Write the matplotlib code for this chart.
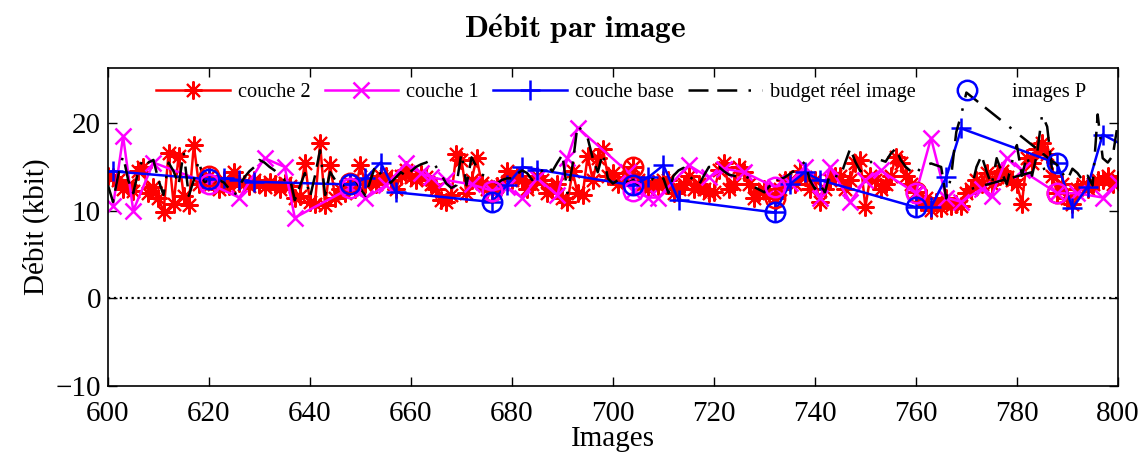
import matplotlib
matplotlib.use('Agg')  # no display
import matplotlib.pyplot as plt

plt.rcParams['font.family'] = ['Liberation Serif', 'DejaVu Serif']
plt.rcParams['mathtext.fontset'] = 'cm'

# ---- data (kbit per frame) ----
frames = list(range(600, 801))

# couche 2 : one value per frame, 600..800
couche2 = [
    14.0, 13.8, 13.5, 12.5, 12.9, 12.2, 14.5, 15.0, 12.0, 12.7,   # 600
    11.5, 9.8, 16.6, 10.8, 16.3, 11.7, 10.6, 17.5, 13.0, 13.4,    # 610
    14.0, 13.0, 12.5, 13.5, 12.8, 14.4, 13.2, 13.0, 12.8, 13.5,   # 620
    13.0, 12.7, 13.3, 13.0, 12.5, 13.2, 12.8, 11.5, 11.7, 15.5,   # 630
    11.0, 10.8, 17.7, 10.6, 15.2, 11.5, 12.5, 12.0, 13.2, 12.5,   # 640
    15.2, 13.0, 13.5, 13.0, 14.0, 14.0, 13.5, 12.5, 14.0, 14.6,   # 650
    13.8, 13.5, 14.2, 13.8, 13.0, 12.5, 11.2, 11.0, 11.8, 16.5,   # 660
    15.8, 12.0, 13.5, 16.0, 13.2, 12.5, 12.2, 12.8, 13.0, 14.5,   # 670
    13.5, 14.0, 13.5, 12.5, 13.0, 14.0, 13.5, 12.0, 12.5, 13.0,   # 680
    11.5, 11.0, 14.5, 12.0, 11.8, 16.3, 13.5, 16.0, 17.1, 14.0,   # 690
    14.3, 13.0, 13.5, 13.8, 15.0, 13.5, 13.0, 12.5, 13.0, 12.8,   # 700
    13.5, 13.5, 12.0, 12.5, 13.0, 14.0, 12.5, 13.0, 12.5, 12.0,   # 710
    12.1, 14.6, 15.4, 12.5, 13.0, 15.0, 14.4, 13.0, 11.4, 12.1,   # 720
    12.5, 12.0, 11.4, 12.5, 13.5, 13.5, 13.0, 14.5, 13.8, 12.5,   # 730
    13.5, 11.0, 12.5, 13.5, 14.0, 14.0, 12.5, 13.5, 15.5, 15.8,   # 740
    10.4, 14.0, 13.5, 12.5, 13.1, 14.0, 16.1, 15.4, 14.0, 13.0,   # 750
    12.1, 11.0, 11.5, 10.1, 11.0, 10.3, 11.5, 10.5, 10.8, 10.5,   # 760
    12.0, 12.5, 13.5, 13.0, 14.3, 13.0, 13.8, 14.5, 13.8, 13.5,   # 770
    13.0, 10.8, 16.0, 15.5, 17.0, 17.7, 16.5, 14.0, 12.0, 13.0,   # 780
    11.5, 10.8, 12.5, 13.0, 12.5, 13.0, 13.5, 13.5, 14.0, 13.0,   # 790
    13.5,                                                         # 800
]

# couche 1
couche1_frames = [601, 603, 605, 609, 620, 626, 631, 635, 637, 648, 651, 655, 659,
                  662, 664, 667, 672, 676, 679, 682, 685, 689, 691, 693, 703, 704,
                  707, 709, 715, 719, 722, 726, 732, 735, 738, 741, 743, 747, 750,
                  753, 760, 763, 766, 769, 773, 775, 778, 781, 788, 792, 797, 800]
couche1 = [10.5, 18.5, 10.0, 15.5, 13.1, 11.5, 16.0, 15.0, 9.2, 12.6, 11.4, 12.9, 15.4,
           14.3, 13.8, 13.5, 13.0, 12.3, 12.7, 11.5, 13.7, 11.8, 16.0, 19.5, 14.4, 12.3,
           11.5, 11.5, 15.2, 13.8, 14.8, 14.4, 12.7, 13.2, 15.0, 11.4, 15.0, 11.0, 13.5,
           14.6, 12.0, 18.3, 11.5, 11.0, 12.5, 11.7, 16.0, 14.6, 12.0, 12.0, 11.5, 13.2]

# couche base
base_frames = [598, 601, 620, 623, 626, 629, 648, 651, 654, 657, 676, 679, 682, 685,
               704, 707, 710, 713, 732, 735, 738, 741, 760, 763, 766, 769, 788, 791,
               794, 797, 816]
base = [14.4, 14.5, 13.6, 13.7, 13.5, 13.3, 13.0, 13.7, 15.5, 12.1, 11.0, 12.9, 15.0, 14.7,
        12.9, 13.8, 15.2, 11.2, 9.8, 13.0, 14.4, 13.5, 10.4, 10.4, 13.8, 19.4, 15.4, 10.3,
        12.7, 18.7, 13.0]

# budget reel image (coding order: frame 788 comes right after 770)
budget_frames = list(range(600, 771)) + [788] + list(range(771, 788)) + list(range(789, 801))
budget = [
    12.9, 11.0, 14.0, 16.3, 13.5, 12.0, 14.5, 16.1, 15.5, 15.8,   # 600
    13.5, 11.8, 15.5, 14.5, 13.0, 16.7, 11.7, 13.5, 15.8, 13.2,   # 610
    13.5, 12.9, 13.5, 13.2, 12.5, 11.7, 12.8, 13.8, 14.5, 15.0,   # 620
    15.8, 15.5, 15.0, 14.6, 14.0, 13.5, 13.8, 11.2, 12.8, 14.3,   # 630
    11.5, 14.0, 16.9, 11.8, 14.4, 13.5, 12.7, 13.0, 13.2, 13.5,   # 640
    12.5, 11.7, 13.5, 15.2, 14.2, 13.5, 13.2, 13.8, 14.4, 14.0,   # 650
    14.5, 15.0, 15.3, 15.5, 15.8, 15.0, 14.1, 13.1, 12.6, 12.9,   # 660
    16.6, 12.9, 16.1, 15.0, 14.1, 14.0, 13.5, 13.1, 13.5, 13.7,   # 670
    13.7, 14.2, 14.6, 14.3, 13.5, 14.0, 14.6, 15.2, 14.5, 15.5,   # 680
    16.4, 12.0, 15.2, 19.8, 19.0, 18.3, 16.0, 14.4, 16.6, 13.7,   # 690
    13.1, 13.5, 13.8, 13.2, 13.5, 13.0, 13.2, 13.5, 13.6, 13.2,   # 700
    13.7, 12.0, 14.0, 14.6, 14.9, 14.0, 13.5, 12.9, 14.0, 15.0,   # 710
    15.0, 15.0, 14.5, 14.1, 14.0, 13.8, 14.0, 13.7, 12.7, 12.4,   # 720
    12.1, 12.8, 13.5, 13.6, 13.8, 14.2, 14.6, 15.0, 15.6, 13.5,   # 730
    12.5, 13.0, 12.1, 14.3, 14.0, 13.8, 15.5, 17.1, 15.6, 14.5,   # 740
    15.0, 15.5, 16.1, 15.8, 15.6, 16.5, 17.1, 15.8, 15.0, 14.5,   # 750
    14.1, 15.0, 15.2, 15.4, 15.2, 15.0, 11.4, 14.0, 19.0, 21.0,   # 760
    23.5,                                                         # 770
    15.2,                                                         # 788
    12.5, 15.0, 16.3, 14.5, 12.9, 16.0, 14.4, 13.0, 15.5, 17.5,   # 771..780
    14.0, 16.3, 14.0, 16.5, 21.0, 19.6, 14.5,                     # 781..787
    14.3, 13.5, 14.8, 14.3, 13.5, 14.0, 12.9, 21.0, 16.0, 15.5,   # 789..798
    16.3, 20.0,                                                   # 799..800
]

p_frames = [620, 648, 676, 704, 732, 760, 788]

# ---- plot ----
fig = plt.figure(figsize=(11.45, 4.59), dpi=100)
ax = fig.add_axes([0.0943, 0.1597, 0.882, 0.692])

lw = 1.8
star = (8, 2, 0)
ax.axhline(0, color='k', ls=':', lw=1.6, zorder=1)

h2, = ax.plot(frames, couche2, color='red', marker=star, ms=13, mew=1.5, lw=lw, label='couche 2')
h1, = ax.plot(couche1_frames, couche1, color='magenta', marker='x', ms=11, mew=1.8, lw=lw, label='couche 1')
hb, = ax.plot(base_frames, base, color='blue', marker='+', ms=15, mew=1.8, lw=lw, label='couche base')
hbud, = ax.plot(budget_frames, budget, color='black', lw=lw, ls=(0, (8, 3.5, 8, 4.5, 1, 4.5)),
                label='budget réel image')

# circles on the P frames of each layer
red_p = [couche2[frames.index(f)] for f in p_frames]
mag_p = [couche1[couche1_frames.index(f)] for f in p_frames]
blue_p = [base[base_frames.index(f)] for f in p_frames]
ax.plot(p_frames, red_p, ls='none', marker='o', ms=14, mfc='none', mec='red', mew=1.8)
ax.plot(p_frames, mag_p, ls='none', marker='o', ms=14, mfc='none', mec='magenta', mew=1.8)
hp, = ax.plot(p_frames, blue_p, ls='none', marker='o', ms=14, mfc='none', mec='blue', mew=1.8,
              label='images P')

ax.set_xlim(600, 800)
ax.set_ylim(-10, 26.3)
ax.set_xticks(range(600, 801, 20))
ax.set_yticks([-10, 0, 10, 20])
ax.tick_params(direction='in', top=True, right=True, length=6.5, width=1, labelsize=21)
ax.tick_params(axis='x', pad=11)
ax.tick_params(axis='y', pad=5)
for s in ax.spines.values():
    s.set_linewidth(1.2)

ax.set_xlabel('Images', fontsize=21, labelpad=-1)
ax.set_ylabel('Débit (kbit)', fontsize=21, labelpad=4)
fig.text(0.502, 0.937, r'$\mathbf{D\acute{e}bit\ par\ image}$', fontsize=22.5, ha='center', va='center')

ax.legend(handles=[h2, h1, hb, hbud, hp], ncol=5, loc='center', bbox_to_anchor=(0.508, 0.924),
          frameon=False, fontsize=14.7, handlelength=3.6, handletextpad=0.4, columnspacing=0.7,
          borderpad=0, borderaxespad=0)

plt.savefig('out.png', dpi=100)
plt.close()
